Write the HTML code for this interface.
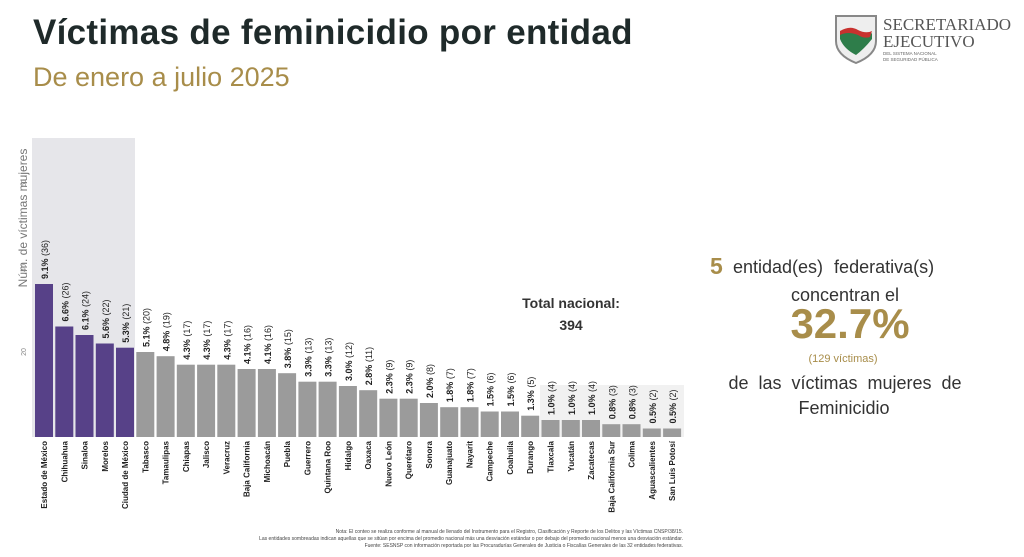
<!DOCTYPE html>
<html><head><meta charset="utf-8"><style>
html,body{margin:0;padding:0;background:#fff;width:1024px;height:557px;overflow:hidden;font-family:"Liberation Sans","DejaVu Sans",sans-serif}
.t{position:absolute;left:33px;top:13px;font-size:35px;font-weight:bold;color:#1f2a2a;letter-spacing:0.3px}
.s{position:absolute;left:33px;top:62px;font-size:27px;color:#a88d4a}
</style></head><body>
<div class="t">Víctimas de feminicidio por entidad</div>
<div class="s">De enero a julio 2025</div>
<svg width="1024" height="557" style="position:absolute;left:0;top:0" font-family="Liberation Sans, DejaVu Sans, sans-serif">
<rect x="32" y="138" width="103" height="299" fill="#e6e6ea"/>
<rect x="540" y="385" width="144" height="52" fill="#f1f1f1"/>
<text transform="translate(27,218) rotate(-90)" text-anchor="middle" font-size="12" fill="#777">Núm. de víctimas mujeres</text>
<g font-size="7" fill="#888" text-anchor="middle">
<text transform="translate(26,352) rotate(-90)">20</text>
<text transform="translate(26,268) rotate(-90)">40</text>
<text transform="translate(26,183) rotate(-90)">60</text>
</g>
<g fill="#574188">
<rect x="35" y="284" width="18" height="153"/>
<rect x="55.3" y="326.5" width="18" height="110.5"/>
<rect x="75.5" y="335" width="18" height="102"/>
<rect x="95.8" y="343.5" width="18" height="93.5"/>
<rect x="116" y="347.7" width="18" height="89.3"/>
</g>
<g fill="#9b9b9b">
<rect x="136.3" y="352" width="18" height="85"/>
<rect x="156.6" y="356.2" width="18" height="80.8"/>
<rect x="176.8" y="364.7" width="18" height="72.3"/>
<rect x="197.1" y="364.7" width="18" height="72.3"/>
<rect x="217.3" y="364.7" width="18" height="72.3"/>
<rect x="237.6" y="369" width="18" height="68"/>
<rect x="257.9" y="369" width="18" height="68"/>
<rect x="278.1" y="373.2" width="18" height="63.8"/>
<rect x="298.4" y="381.7" width="18" height="55.3"/>
<rect x="318.6" y="381.7" width="18" height="55.3"/>
<rect x="338.9" y="386" width="18" height="51"/>
<rect x="359.2" y="390.2" width="18" height="46.8"/>
<rect x="379.4" y="398.7" width="18" height="38.3"/>
<rect x="399.7" y="398.7" width="18" height="38.3"/>
<rect x="419.9" y="403" width="18" height="34"/>
<rect x="440.2" y="407.2" width="18" height="29.8"/>
<rect x="460.5" y="407.2" width="18" height="29.8"/>
<rect x="480.7" y="411.5" width="18" height="25.5"/>
<rect x="501" y="411.5" width="18" height="25.5"/>
<rect x="521.2" y="415.7" width="18" height="21.3"/>
<rect x="541.5" y="420" width="18" height="17"/>
<rect x="561.8" y="420" width="18" height="17"/>
<rect x="582" y="420" width="18" height="17"/>
<rect x="602.3" y="424.2" width="18" height="12.8"/>
<rect x="622.5" y="424.2" width="18" height="12.8"/>
<rect x="642.8" y="428.5" width="18" height="8.5"/>
<rect x="663.1" y="428.5" width="18" height="8.5"/>
</g>
<g font-size="9" fill="#222">
<text transform="translate(48,279) rotate(-90)"><tspan font-weight="bold">9.1%</tspan> (36)</text>
<text transform="translate(68.3,321.5) rotate(-90)"><tspan font-weight="bold">6.6%</tspan> (26)</text>
<text transform="translate(88.5,330) rotate(-90)"><tspan font-weight="bold">6.1%</tspan> (24)</text>
<text transform="translate(108.8,338.5) rotate(-90)"><tspan font-weight="bold">5.6%</tspan> (22)</text>
<text transform="translate(129,342.7) rotate(-90)"><tspan font-weight="bold">5.3%</tspan> (21)</text>
<text transform="translate(149.3,347) rotate(-90)"><tspan font-weight="bold">5.1%</tspan> (20)</text>
<text transform="translate(169.6,351.2) rotate(-90)"><tspan font-weight="bold">4.8%</tspan> (19)</text>
<text transform="translate(189.8,359.7) rotate(-90)"><tspan font-weight="bold">4.3%</tspan> (17)</text>
<text transform="translate(210.1,359.7) rotate(-90)"><tspan font-weight="bold">4.3%</tspan> (17)</text>
<text transform="translate(230.3,359.7) rotate(-90)"><tspan font-weight="bold">4.3%</tspan> (17)</text>
<text transform="translate(250.6,364) rotate(-90)"><tspan font-weight="bold">4.1%</tspan> (16)</text>
<text transform="translate(270.9,364) rotate(-90)"><tspan font-weight="bold">4.1%</tspan> (16)</text>
<text transform="translate(291.1,368.2) rotate(-90)"><tspan font-weight="bold">3.8%</tspan> (15)</text>
<text transform="translate(311.4,376.7) rotate(-90)"><tspan font-weight="bold">3.3%</tspan> (13)</text>
<text transform="translate(331.6,376.7) rotate(-90)"><tspan font-weight="bold">3.3%</tspan> (13)</text>
<text transform="translate(351.9,381) rotate(-90)"><tspan font-weight="bold">3.0%</tspan> (12)</text>
<text transform="translate(372.2,385.2) rotate(-90)"><tspan font-weight="bold">2.8%</tspan> (11)</text>
<text transform="translate(392.4,393.7) rotate(-90)"><tspan font-weight="bold">2.3%</tspan> (9)</text>
<text transform="translate(412.7,393.7) rotate(-90)"><tspan font-weight="bold">2.3%</tspan> (9)</text>
<text transform="translate(432.9,398) rotate(-90)"><tspan font-weight="bold">2.0%</tspan> (8)</text>
<text transform="translate(453.2,402.2) rotate(-90)"><tspan font-weight="bold">1.8%</tspan> (7)</text>
<text transform="translate(473.5,402.2) rotate(-90)"><tspan font-weight="bold">1.8%</tspan> (7)</text>
<text transform="translate(493.7,406.5) rotate(-90)"><tspan font-weight="bold">1.5%</tspan> (6)</text>
<text transform="translate(514,406.5) rotate(-90)"><tspan font-weight="bold">1.5%</tspan> (6)</text>
<text transform="translate(534.2,410.7) rotate(-90)"><tspan font-weight="bold">1.3%</tspan> (5)</text>
<text transform="translate(554.5,415) rotate(-90)"><tspan font-weight="bold">1.0%</tspan> (4)</text>
<text transform="translate(574.8,415) rotate(-90)"><tspan font-weight="bold">1.0%</tspan> (4)</text>
<text transform="translate(595,415) rotate(-90)"><tspan font-weight="bold">1.0%</tspan> (4)</text>
<text transform="translate(615.3,419.2) rotate(-90)"><tspan font-weight="bold">0.8%</tspan> (3)</text>
<text transform="translate(635.5,419.2) rotate(-90)"><tspan font-weight="bold">0.8%</tspan> (3)</text>
<text transform="translate(655.8,423.5) rotate(-90)"><tspan font-weight="bold">0.5%</tspan> (2)</text>
<text transform="translate(676.1,423.5) rotate(-90)"><tspan font-weight="bold">0.5%</tspan> (2)</text>
</g>
<g font-size="8" fill="#222" text-anchor="end" font-weight="bold">
<text transform="translate(47,441) rotate(-90)">Estado de México</text>
<text transform="translate(67.3,441) rotate(-90)">Chihuahua</text>
<text transform="translate(87.5,441) rotate(-90)">Sinaloa</text>
<text transform="translate(107.8,441) rotate(-90)">Morelos</text>
<text transform="translate(128,441) rotate(-90)">Ciudad de México</text>
<text transform="translate(148.3,441) rotate(-90)">Tabasco</text>
<text transform="translate(168.6,441) rotate(-90)">Tamaulipas</text>
<text transform="translate(188.8,441) rotate(-90)">Chiapas</text>
<text transform="translate(209.1,441) rotate(-90)">Jalisco</text>
<text transform="translate(229.3,441) rotate(-90)">Veracruz</text>
<text transform="translate(249.6,441) rotate(-90)">Baja California</text>
<text transform="translate(269.9,441) rotate(-90)">Michoacán</text>
<text transform="translate(290.1,441) rotate(-90)">Puebla</text>
<text transform="translate(310.4,441) rotate(-90)">Guerrero</text>
<text transform="translate(330.6,441) rotate(-90)">Quintana Roo</text>
<text transform="translate(350.9,441) rotate(-90)">Hidalgo</text>
<text transform="translate(371.2,441) rotate(-90)">Oaxaca</text>
<text transform="translate(391.4,441) rotate(-90)">Nuevo León</text>
<text transform="translate(411.7,441) rotate(-90)">Querétaro</text>
<text transform="translate(431.9,441) rotate(-90)">Sonora</text>
<text transform="translate(452.2,441) rotate(-90)">Guanajuato</text>
<text transform="translate(472.5,441) rotate(-90)">Nayarit</text>
<text transform="translate(492.7,441) rotate(-90)">Campeche</text>
<text transform="translate(513,441) rotate(-90)">Coahuila</text>
<text transform="translate(533.2,441) rotate(-90)">Durango</text>
<text transform="translate(553.5,441) rotate(-90)">Tlaxcala</text>
<text transform="translate(573.8,441) rotate(-90)">Yucatán</text>
<text transform="translate(594,441) rotate(-90)">Zacatecas</text>
<text transform="translate(614.3,441) rotate(-90)">Baja California Sur</text>
<text transform="translate(634.5,441) rotate(-90)">Colima</text>
<text transform="translate(654.8,441) rotate(-90)">Aguascalientes</text>
<text transform="translate(675.1,441) rotate(-90)">San Luis Potosí</text>
</g>
<text x="571" y="308" text-anchor="middle" font-size="14" font-weight="bold" fill="#333">Total nacional:</text>
<text x="571" y="330" text-anchor="middle" font-size="14" font-weight="bold" fill="#333">394</text>
<g font-size="5" fill="#444" text-anchor="end">
<text x="683" y="533">Nota: El conteo se realiza conforme al manual de llenado del Instrumento para el Registro, Clasificación y Reporte de los Delitos y las Víctimas CNSP/38/15.</text>
<text x="683" y="540">Las entidades sombreadas indican aquellas que se sitúan por encima del promedio nacional más una desviación estándar o por debajo del promedio nacional menos una desviación estándar.</text>
<text x="683" y="547">Fuente: SESNSP con información reportada por las Procuradurías Generales de Justicia o Fiscalías Generales de las 32 entidades federativas.</text>
</g>
<path d="M836 16 h40 v25 q0 14 -20 22 q-20 -8 -20 -22 z" fill="#eee" stroke="#888" stroke-width="2"/>
<path d="M840 33 q10 -6 20 0 q8 4 12 0 v6 q-8 10 -16 16 q-12 -6 -16 -16z" fill="#2e7d4a"/>
<path d="M840 31 q10 -6 18 -1 q8 4 14 1 l-2 6 q-6 2 -12 -2 q-10 -4 -18 0z" fill="#c8322f"/>
<text x="883" y="30" font-family="Liberation Serif, serif" font-size="17" fill="#555">SECRETARIADO</text>
<text x="883" y="47" font-family="Liberation Serif, serif" font-size="17" fill="#555">EJECUTIVO</text>
<text x="883" y="55" font-size="4.5" fill="#666">DEL SISTEMA NACIONAL</text>
<text x="883" y="61" font-size="4.5" fill="#666">DE SEGURIDAD PÚBLICA</text>
<text x="710" y="274" font-size="23" font-weight="bold" fill="#a88d4a">5</text>
<text x="733" y="273" font-size="18" fill="#333" word-spacing="6">entidad(es) federativa(s)</text>
<text x="845" y="301" text-anchor="middle" font-size="18" fill="#333">concentran el</text>
<text x="850" y="338" text-anchor="middle" font-size="42" font-weight="bold" fill="#a88d4a">32.7%</text>
<text x="843" y="362" text-anchor="middle" font-size="11" fill="#a88d4a">(129  víctimas)</text>
<text x="845" y="389" text-anchor="middle" font-size="18" fill="#333" word-spacing="5">de las víctimas mujeres de</text>
<text x="844" y="414" text-anchor="middle" font-size="18" fill="#333">Feminicidio</text>
</svg>
</body></html>
